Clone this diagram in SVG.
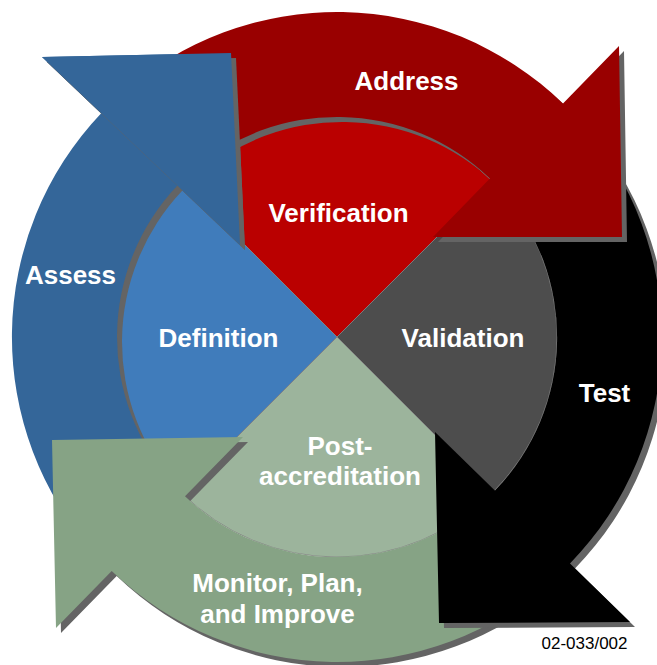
<svg xmlns="http://www.w3.org/2000/svg" xmlns:xlink="http://www.w3.org/1999/xlink" width="657" height="665" viewBox="0 0 657 665">
<style>
.t{font-family:"Liberation Sans",Arial,sans-serif;font-weight:bold;font-size:26px;fill:#ffffff;text-anchor:middle}
.code{font-family:"Liberation Sans",Arial,sans-serif;font-size:17px;fill:#000000;text-anchor:middle}
.sh{fill:#646464}
.wedge{stroke:#808080;stroke-width:0.8}
</style>
<defs>
<path id="p-assess" d="M95.5,554.5 A325,325 0 0 1 101.2,113.2 L42,57 L231,53 L240,245 L177.4,185.6 A220,220 0 0 0 173.5,484.2 Z"/>
<path id="p-assess-head" d="M42,57 L231,53 L240,245 Z"/>
<path id="p-monitor" d="M554.5,578.5 A325,325 0 0 1 111.7,571.1 L56,628 L52,440 L243,437 L185,496.2 A220,220 0 0 0 484.2,500.5 Z"/>
<path id="p-test" d="M578.5,119.5 A325,325 0 0 1 570,563.5 L630,622 L439,623 L435,432 L494.9,490.4 A220,220 0 0 0 500.5,189.8 Z"/>
<path id="p-address" d="M119.5,95.5 A325,325 0 0 1 563,103.5 L619,46 L622,237 L433,237 L489.9,178.6 A220,220 0 0 0 189.8,173.5 Z"/>
</defs>
<rect width="657" height="665" fill="#ffffff"/>
<g id="verification">
<path class="wedge" fill="#BA0000" d="M337,337 L181.4,181.4 A220,220 0 0 1 492.6,181.4 Z"/>
<text class="t" x="338.5" y="222">Verification</text>
</g>
<g id="validation">
<path class="wedge" fill="#4D4D4D" d="M337,337 L492.6,181.4 A220,220 0 0 1 492.6,492.6 Z"/>
<text class="t" x="463" y="347">Validation</text>
</g>
<g id="post-accreditation">
<path class="wedge" fill="#9CB49C" d="M337,337 L492.6,492.6 A220,220 0 0 1 181.4,492.6 Z"/>
<text class="t" x="340" y="455">Post-</text>
<text class="t" x="340" y="485">accreditation</text>
</g>
<g id="definition">
<path class="wedge" fill="#407CBB" d="M337,337 L181.4,492.6 A220,220 0 0 1 181.4,181.4 Z"/>
<text class="t" x="218.5" y="347">Definition</text>
</g>
<g id="assess">
<use xlink:href="#p-assess" href="#p-assess" class="sh" transform="translate(5,5)"/>
<use xlink:href="#p-assess" href="#p-assess" fill="#346699"/>
<text class="t" x="70.5" y="284">Assess</text>
</g>
<g id="monitor">
<use xlink:href="#p-monitor" href="#p-monitor" class="sh" transform="translate(5,5)"/>
<use xlink:href="#p-monitor" href="#p-monitor" fill="#86A385"/>
<text class="t" x="277.5" y="592">Monitor, Plan,</text>
<text class="t" x="277.5" y="623">and Improve</text>
</g>
<g id="test">
<use xlink:href="#p-test" href="#p-test" class="sh" transform="translate(5,5)"/>
<use xlink:href="#p-test" href="#p-test" fill="#000000"/>
<text class="t" x="604.5" y="402">Test</text>
</g>
<g id="address">
<use xlink:href="#p-address" href="#p-address" class="sh" transform="translate(5,5)"/>
<use xlink:href="#p-address" href="#p-address" fill="#990000"/>
<text class="t" x="406.5" y="90">Address</text>
</g>
<g id="assess-head">
<use xlink:href="#p-assess-head" href="#p-assess-head" class="sh" transform="translate(5,5)"/>
<use xlink:href="#p-assess-head" href="#p-assess-head" fill="#346699"/>
</g>
<g id="figure-id">
<text class="code" x="584.5" y="649">02-033/002</text>
</g>
</svg>
